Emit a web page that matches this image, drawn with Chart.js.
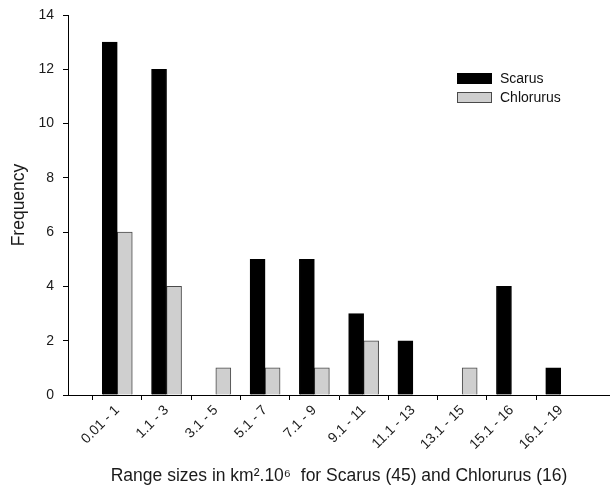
<!DOCTYPE html>
<html>
<head>
<meta charset="utf-8">
<script src="https://cdn.jsdelivr.net/npm/chart.js@4/dist/chart.umd.min.js"></script>
<style>
  html, body { margin: 0; padding: 0; background: #fff; }
  #wrap { width: 610px; height: 487px; position: relative; }
</style>
</head>
<body>
<div id="wrap"><canvas id="c" width="610" height="487"></canvas></div>
<script>
const categories = ['0.01 - 1', '1.1 - 3', '3.1 - 5', '5.1 - 7', '7.1 - 9', '9.1 - 11', '11.1 - 13', '13.1 - 15', '15.1 - 16', '16.1 - 19'];
const scarus = [13, 12, 0, 5, 5, 3, 2, 0, 4, 1];
const chlorurus = [6, 4, 1, 1, 1, 2, 0, 1, 0, 0];
const yTicks = [0, 2, 4, 6, 8, 10, 12, 14];

// pad with empty slots at both ends so the axis runs past the first and last groups
const labels = [''].concat(categories, ['']);
const pad = arr => [null].concat(arr.map(v => v === 0 ? null : v), [null]);

const FONT = "'Liberation Sans', Arial, sans-serif";

const legendPlugin = {
  id: 'boxLegend',
  afterDraw(chart) {
    const ctx = chart.ctx;
    const x0 = 457, y0 = 73, bw = 35, bh = 11, gap = 19;
    ctx.save();
    chart.data.datasets.forEach((ds, i) => {
      const y = y0 + i * gap;
      ctx.fillStyle = ds.backgroundColor;
      ctx.fillRect(x0, y, bw, bh);
      ctx.strokeStyle = ds.borderColor;
      ctx.lineWidth = 1;
      ctx.strokeRect(x0 + 0.5, y + 0.5, bw - 1, bh - 1);
      ctx.fillStyle = '#111';
      ctx.font = '14px ' + FONT;
      ctx.textBaseline = 'middle';
      ctx.textAlign = 'left';
      ctx.fillText(ds.label, x0 + bw + 8, y + bh / 2 + 0.5);
    });
    ctx.restore();
  }
};

new Chart(document.getElementById('c'), {
  type: 'bar',
  data: {
    labels: labels,
    datasets: [
      { label: 'Scarus', data: pad(scarus), backgroundColor: '#000000', borderColor: '#000000', borderWidth: 1 },
      { label: 'Chlorurus', data: pad(chlorurus), backgroundColor: '#cfcfcf', borderColor: '#4a4a4a', borderWidth: 1 }
    ]
  },
  options: {
    responsive: false,
    animation: false,
    devicePixelRatio: 1,
    layout: { padding: { top: 15, right: 0, left: 0, bottom: 0 } },
    datasets: { bar: { barThickness: 15 } },
    plugins: { legend: { display: false }, tooltip: { enabled: false } },
    scales: {
      x: {
        type: 'category',
        offset: false,
        grid: {
          display: true, drawOnChartArea: false, drawTicks: true, tickLength: 5,
          color: c => (c.index === 0 || c.index === labels.length - 1) ? 'rgba(0,0,0,0)' : '#000'
        },
        border: { display: true, color: '#000', width: 1 },
        ticks: {
          autoSkip: false, maxRotation: 45, minRotation: 45, padding: 2,
          color: '#1a1a1a', font: { family: FONT, size: 14 }
        },
        title: {
          display: true,
          text: 'Range sizes in km\u00B2.10\u2076  for Scarus (45) and Chlorurus (16)',
          color: '#1a1a1a', font: { family: FONT, size: 17.5 },
          padding: { top: 4, bottom: 0 }
        },
        afterFit: s => { s.height = 92; s.paddingLeft = 0; s.paddingRight = 0; }
      },
      y: {
        min: 0, max: 14,
        afterBuildTicks: s => { s.ticks = yTicks.map(v => ({ value: v })); },
        grid: { display: true, drawOnChartArea: false, drawTicks: true, tickLength: 5, color: '#000' },
        border: { display: true, color: '#000', width: 1 },
        ticks: { padding: 9, color: '#1a1a1a', font: { family: FONT, size: 14 } },
        title: {
          display: true, text: 'Frequency',
          color: '#1a1a1a', font: { family: FONT, size: 17.5 },
          padding: { top: 9, bottom: 0 }
        },
        afterFit: s => { s.width = 68; s.paddingTop = 0; s.paddingBottom = 0; }
      }
    }
  },
  plugins: [legendPlugin]
});
</script>
</body>
</html>
